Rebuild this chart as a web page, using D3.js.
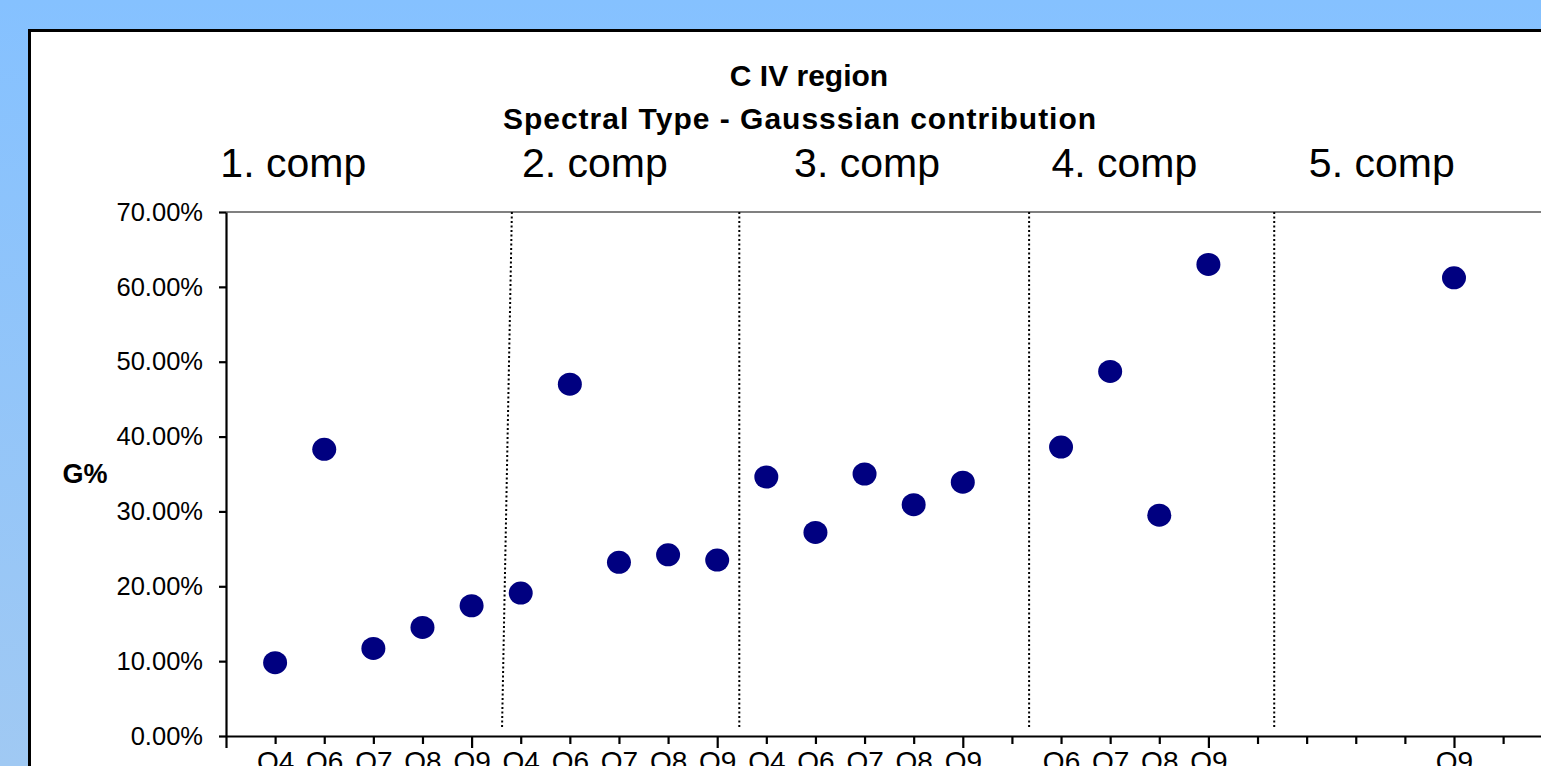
<!DOCTYPE html>
<html>
<head>
<meta charset="utf-8">
<script src="https://cdn.jsdelivr.net/npm/d3@7"></script>
<style>
body { margin: 0; overflow: hidden; }
text { font-family: "Liberation Sans", Arial, sans-serif; }
</style>
</head>
<body>
<div id="chart"></div>
<script>
//Width and height
var w = 1541;
var h = 766;

//Data
var categories = ["O4","O6","O7","O8","O9",
  "O4","O6","O7","O8","O9",
  "O4","O6","O7","O8","O9",
  "","O6","O7","O8","O9",
  "","","","","O9"];
// Gaussian contribution (%), null = no point
var gValues = [9.8, 38.3, 11.7, 14.5, 17.4,
  19.1, 47.0, 23.2, 24.2, 23.5,
  34.6, 27.2, 35.0, 30.9, 33.9,
  null, 38.6, 48.7, 29.5, 63.0,
  null, null, null, null, 61.2];
var yTicks = [0, 0.1, 0.2, 0.3, 0.4, 0.5, 0.6, 0.7];
var compLabels = ["1. comp", "2. comp", "3. comp", "4. comp", "5. comp"];
var compCenters = [1.37, 7.51, 13.05, 18.29, 23.53];
//dotted separators, [top, bottom] in category units
var dividers = [[5.82, 5.62], [10.45, 10.45], [16.35, 16.35], [21.34, 21.34]];

var points = gValues.map(function(v, i) { return {x: i + 1, v: v}; })
  .filter(function(d) { return d.v !== null; });

//Scales
var xScale = d3.scaleLinear()
  .domain([0, 27])
  .range([226, 226 + 27 * 49.12]);

var yScale = d3.scaleLinear()
  .domain([0, 0.7])
  .range([736, 212]);

//Create svg
var svg = d3.select("#chart")
  .append("svg")
  .attr("width", w)
  .attr("height", h);

var grad = svg.append("defs").append("linearGradient")
  .attr("id", "bg")
  .attr("x1", 0).attr("y1", 0).attr("x2", 0).attr("y2", 1);
grad.append("stop").attr("offset", "0%").attr("stop-color", "#85c1ff");
grad.append("stop").attr("offset", "100%").attr("stop-color", "#a0c9f3");

svg.append("rect")
  .attr("width", w)
  .attr("height", h)
  .attr("fill", "url(#bg)");

//Chart area
svg.append("rect")
  .attr("x", 29.5)
  .attr("y", 30.5)
  .attr("width", w + 20)
  .attr("height", h + 20)
  .attr("fill", "white")
  .attr("stroke", "black")
  .attr("stroke-width", 3);

//Plot area top border
svg.append("line")
  .attr("x1", xScale(0))
  .attr("x2", w)
  .attr("y1", yScale(0.7))
  .attr("y2", yScale(0.7))
  .attr("stroke", "#808080")
  .attr("stroke-width", 2);

//Titles
svg.append("text")
  .attr("x", 809)
  .attr("y", 86)
  .attr("text-anchor", "middle")
  .attr("font-size", 30)
  .attr("font-weight", "bold")
  .text("C IV region");

svg.append("text")
  .attr("x", 800)
  .attr("y", 129)
  .attr("text-anchor", "middle")
  .attr("font-size", 30)
  .attr("font-weight", "bold")
  .attr("letter-spacing", 1)
  .text("Spectral Type - Gausssian contribution");

svg.selectAll(".comp")
  .data(compLabels)
  .enter()
  .append("text")
  .attr("class", "comp")
  .attr("x", function(d, i) { return xScale(compCenters[i]); })
  .attr("y", 177)
  .attr("text-anchor", "middle")
  .attr("font-size", 41)
  .text(function(d) { return d; });

//Y axis label
svg.append("text")
  .attr("x", 85)
  .attr("y", (yScale(0) + yScale(0.7)) / 2)
  .attr("dy", "0.35em")
  .attr("text-anchor", "middle")
  .attr("font-size", 27)
  .attr("font-weight", "bold")
  .text("G%");

//Dotted separators
svg.selectAll(".divider")
  .data(dividers)
  .enter()
  .append("line")
  .attr("class", "divider")
  .attr("x1", function(d) { return xScale(d[0]); })
  .attr("x2", function(d) { return xScale(d[1]); })
  .attr("y1", yScale(0.7))
  .attr("y2", yScale(0.012))
  .attr("stroke", "black")
  .attr("stroke-width", 2)
  .attr("stroke-dasharray", "2,2.5");

//Axes
var yAxis = d3.axisLeft(yScale)
  .tickValues(yTicks)
  .tickFormat(d3.format(".2%"))
  .tickSizeInner(7)
  .tickSizeOuter(0)
  .tickPadding(16);

var gy = svg.append("g")
  .attr("class", "y axis")
  .attr("transform", "translate(" + xScale(0) + ",0)")
  .call(yAxis);
gy.selectAll("text").attr("font-size", 25.5).attr("fill", "black")
  .style("font-family", '"Liberation Sans", Arial, sans-serif');
gy.selectAll("line, path").attr("stroke", "black").attr("stroke-width", 2.2);

var xAxis = d3.axisBottom(xScale)
  .tickValues(d3.range(0, 27))
  .tickSizeInner(8)
  .tickSizeOuter(0)
  .tickFormat(function(d) { return categories[d - 1] || ""; });

var gx = svg.append("g")
  .attr("class", "x axis")
  .attr("transform", "translate(0," + yScale(0) + ")")
  .call(xAxis);
gx.selectAll("line, path").attr("stroke", "black").attr("stroke-width", 2.2);
gx.selectAll(".tick line")
  .attr("y2", function(d) { return d % 5 === 0 ? 12 : 8; });
gx.selectAll("text")
  .attr("font-size", 28)
  .attr("fill", "black")
  .attr("y", 15)
  .style("font-family", '"Liberation Sans", Arial, sans-serif');

//Points
svg.append("g")
  .attr("id", "points")
  .selectAll("ellipse")
  .data(points)
  .enter()
  .append("ellipse")
  .attr("cx", function(d) { return xScale(d.x); })
  .attr("cy", function(d) { return yScale(d.v / 100); })
  .attr("rx", 12)
  .attr("ry", 11.5)
  .attr("fill", "#000080");
</script>
</body>
</html>
